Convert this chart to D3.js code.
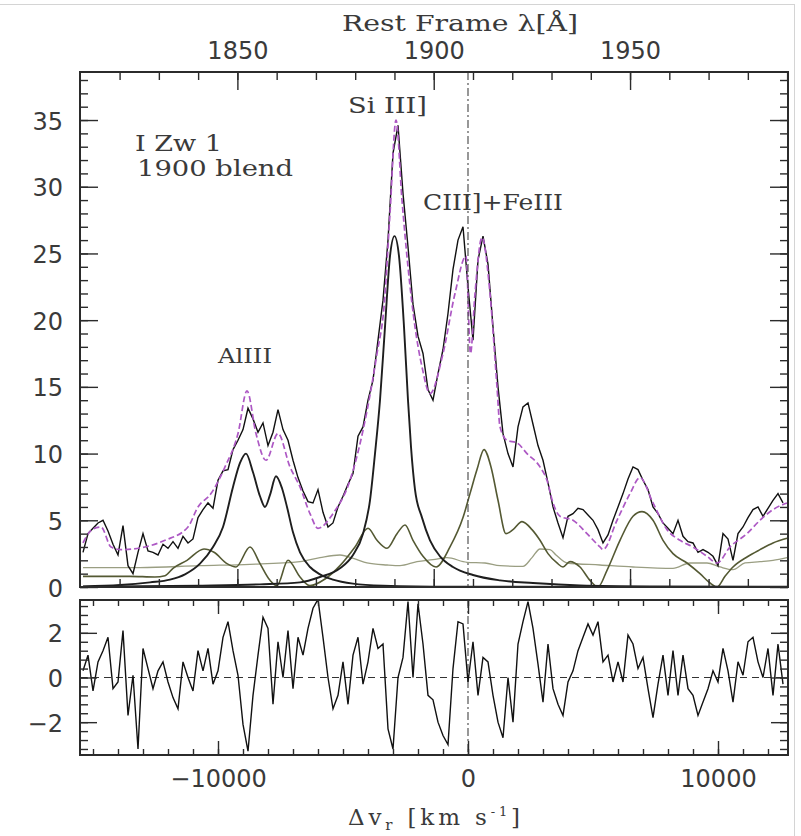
<!DOCTYPE html>
<html>
<head>
<meta charset="utf-8">
<script src="https://cdn.jsdelivr.net/npm/d3@7"></script>
<style>
  body { margin: 0; background: #fff; }
  svg { display: block; }
</style>
</head>
<body>
<svg id="chart" width="801" height="836"></svg>
<script>
// ---- Velocity grid of the observed spectrum and its residuals (km/s) ----
const velocity = [
  -15400,-15200,-15000,-14800,-14600,-14400,-14200,-14000,-13800,-13600,
  -13400,-13200,-13000,-12800,-12600,-12400,-12200,-12000,-11800,-11600,
  -11400,-11200,-11000,-10800,-10600,-10400,-10200,-10000,-9800,-9600,
  -9400,-9200,-9000,-8800,-8600,-8400,-8200,-8000,-7800,-7600,
  -7400,-7200,-7000,-6800,-6600,-6400,-6200,-6000,-5800,-5600,
  -5400,-5200,-5000,-4800,-4600,-4400,-4200,-4000,-3800,-3600,
  -3400,-3200,-3000,-2800,-2600,-2400,-2200,-2000,-1800,-1600,
  -1400,-1200,-1000,-800,-600,-400,-200,0,200,400,
  600,800,1000,1200,1400,1600,1800,2000,2200,2400,
  2600,2800,3000,3200,3400,3600,3800,4000,4200,4400,
  4600,4800,5000,5200,5400,5600,5800,6000,6200,6400,
  6600,6800,7000,7200,7400,7600,7800,8000,8200,8400,
  8600,8800,9000,9200,9400,9600,9800,10000,10200,10400,
  10600,10800,11000,11200,11400,11600,11800,12000,12200,12400,
  12600
];

// Observed flux (10^-15 erg s^-1 cm^-2 A^-1)
const observedFlux = [
  2.6,4.0,4.4,4.8,5.0,4.2,3.2,2.4,4.6,1.6,
  1.0,2.6,4.0,2.7,2.6,2.4,3.2,2.9,3.4,2.9,
  3.8,3.3,3.6,5.2,5.8,6.3,5.9,8.0,8.7,8.8,
  10.3,11.0,11.8,13.4,12.6,11.6,12.3,10.6,11.6,13.3,
  11.8,11.0,9.5,8.2,7.2,6.4,6.3,7.3,5.6,4.5,
  4.8,6.0,6.8,7.7,8.5,11.3,12.0,14.0,15.5,18.5,
  21.5,26.0,32.5,34.6,29.5,25.5,21.2,18.8,17.5,14.8,
  14.0,16.0,17.8,20.5,23.8,26.0,27.0,22.5,18.5,24.5,
  26.3,24.2,19.5,15.0,11.5,10.0,9.0,12.0,13.5,13.8,
  12.2,10.6,9.5,7.8,6.0,4.8,3.7,5.3,5.5,5.9,
  5.8,5.4,5.0,4.3,3.3,3.9,5.0,6.0,7.0,8.1,
  9.0,8.8,8.0,7.3,6.0,5.5,4.8,4.4,4.0,5.0,
  3.8,3.4,3.3,2.6,2.8,2.6,2.3,1.6,4.0,3.6,
  2.0,4.0,4.5,5.2,5.8,6.0,5.3,5.9,6.5,7.0,
  6.3
];

// Residuals (observed - fit) on the same grid
const residual = [
  0.3,1.0,-0.6,0.7,1.2,1.8,-0.5,-0.2,2.1,-1.7,
  0.1,-3.2,1.3,0.4,-0.5,0.3,0.7,-0.2,-0.9,-1.4,
  0.7,0.0,-0.6,1.2,0.3,1.3,-0.3,0.3,1.8,2.5,
  1.2,0.1,-2.1,-3.3,-0.8,1.0,2.7,2.2,-1.2,1.6,
  0.0,2.1,-0.5,1.8,1.0,2.2,3.1,3.5,1.8,0.0,
  -1.4,-0.8,0.7,-1.2,1.0,1.8,-0.3,0.7,2.2,1.3,
  1.5,-2.3,-3.2,0.0,0.9,3.4,0.0,3.3,1.5,-0.8,
  -1.0,-2.0,-2.6,-3.0,0.4,2.5,2.4,-0.2,1.6,-0.8,
  0.9,0.7,-0.8,-2.0,-2.7,0.0,-2.0,1.5,2.5,3.4,
  2.2,0.6,-1.1,1.5,-0.5,-1.2,-1.7,-0.2,0.3,1.2,
  1.8,2.4,1.9,2.5,0.7,1.0,-0.2,0.7,-0.2,1.9,
  1.5,0.4,0.9,-0.5,-1.8,-0.3,1.0,-0.8,1.2,-0.8,
  1.0,-0.5,-0.8,-1.7,-1.1,-0.5,0.3,-0.2,1.3,0.3,
  -1.1,0.7,0.1,1.6,1.8,0.7,0.0,1.3,-0.8,1.5,
  -0.3
];

// Total fit
const modelVelocity = [
  -15400,-15040,-14680,-14280,-13880,-12920,-12120,-11200,-10800,-10280,
  -9720,-9200,-8840,-8480,-8080,-7600,-7120,-6720,-6320,-6000,
  -5400,-4720,-4040,-3640,-3360,-3120,-2880,-2640,-2400,-2120,
  -1840,-1520,-1000,-520,-80,100,280,560,880,1160,
  1280,1560,1960,2360,2880,3160,3400,3680,4200,4760,
  5280,5400,5960,6480,6880,7400,7960,8480,9000,9560,
  9960,10480,11160,11680,12200,12760
];
const modelFlux = [
  3.3,4.3,4.5,3.0,2.8,3.0,3.5,4.5,6.0,7.0,
  9.0,11.5,14.7,11.5,9.5,11.5,9.0,7.5,5.5,4.4,
  5.5,8.0,13.2,17.5,21.0,28.0,35.0,29.0,24.0,19.5,
  16.5,14.5,17.5,22.0,24.8,17.5,22.0,26.2,22.0,15.0,
  12.0,11.0,10.8,10.0,9.0,8.0,6.3,5.3,5.0,4.0,
  3.0,2.8,5.0,7.0,8.2,6.3,4.3,3.5,3.0,2.3,
  1.8,3.0,4.0,5.0,5.8,6.3
];

// Al III doublet component
const alVelocity = [
  -15400,-13920,-12720,-11920,-11320,-10720,-10200,-9800,-9400,-9120,
  -8880,-8600,-8320,-8120,-7920,-7680,-7440,-7240,-7000,-6720,
  -6320,-5920,-5400,-4600,-3400,-720,12800
];
const alFlux = [
  0.05,0.15,0.35,0.55,0.95,1.75,3.0,4.5,7.5,9.3,
  10.0,8.6,6.8,6.0,6.9,8.3,7.4,6.0,4.1,2.6,
  1.5,0.95,0.55,0.25,0.1,0.02,0.0
];

// Si III] component
const siVelocity = [
  -15400,-10720,-8320,-6720,-5920,-5120,-4600,-4200,-3920,-3720,
  -3520,-3320,-3120,-2940,-2760,-2560,-2400,-2280,-2120,-1840,
  -1520,-1120,-600,200,1280,2600,4480,7280,12800
];
const siFlux = [
  0.02,0.1,0.2,0.35,0.75,1.4,2.4,4.0,6.5,10.0,
  14.0,19.5,24.8,26.3,24.8,19.5,14.0,10.5,7.3,5.2,
  3.5,2.3,1.5,0.9,0.5,0.3,0.12,0.05,0.02
];

// Fe III template component
const fe3Velocity = [
  -15400,-13520,-12520,-12120,-11800,-11240,-10560,-10160,-9640,-9280,
  -8720,-8320,-7920,-7640,-7200,-6720,-6320,-5720,-5120,-4520,
  -4000,-3640,-3240,-2840,-2520,-2200,-1800,-1280,-720,-200,
  80,360,640,920,1200,1520,1800,2160,2560,2880,
  3200,3560,3800,4080,4480,4880,5200,5560,6080,6600,
  6960,7400,7800,8200,8760,9280,9680,9960,10280,10600,
  11160,11680,12200,12760
];
const fe3Flux = [
  0.8,0.8,0.75,0.85,1.4,2.0,2.85,2.6,1.75,1.5,
  3.0,1.75,0.5,0.1,2.0,0.75,0.1,0.6,1.6,3.0,
  4.4,3.5,2.9,4.0,4.65,3.5,2.3,1.5,3.0,5.2,
  7.0,8.8,10.3,9.0,6.5,4.0,4.3,4.9,4.3,3.5,
  2.5,1.8,1.5,1.9,1.5,0.5,0.0,1.25,3.5,5.3,
  5.65,5.0,3.5,2.5,1.8,1.0,0.3,0.0,0.8,1.5,
  2.25,2.8,3.3,3.65
];

// Fe II template component
const fe2Velocity = [
  -15400,-13120,-10720,-8720,-6720,-5920,-5120,-4520,-4040,-3240,
  -2720,-2040,-1400,-840,-40,680,1280,2200,2560,2880,
  3280,3520,3960,5280,6600,8200,8880,9560,10080,10600,
  11080,11680,12200,12760
];
const fe2Flux = [
  1.45,1.45,1.6,1.7,1.9,2.2,2.4,2.1,1.8,1.65,
  1.6,1.9,2.05,2.2,1.85,1.8,1.6,1.55,2.2,2.85,
  2.8,2.4,1.8,1.65,1.5,1.4,1.8,1.8,1.5,1.3,
  1.8,1.9,2.0,2.2
];

// Axis ticks
const fluxMajor = [0, 5, 10, 15, 20, 25, 30, 35];
const fluxMinor = d3.range(0, 39, 1);
const lambdaMajor = [1850, 1900, 1950];
const lambdaMinor = d3.range(1820, 1991, 10);
const velMajor = [-10000, 0, 10000];
const velMinor = d3.range(-15000, 12001, 1000);
const resMajor = [-2, 0, 2];
const resMinor = [-3.2,-2.8,-2.4,-2,-1.6,-1.2,-0.8,-0.4,0,0.4,0.8,1.2,1.6,2,2.4,2.8,3.2];

// ---- Layout ----
const L = 80, R = 788;
const topY0 = 72, topY1 = 587;
const botY0 = 600, botY1 = 755;
const C_KMS = 299792.458, LAMBDA0 = 1908.73;

const svg = d3.select("#chart");
svg.append("rect").attr("width", 801).attr("height", 836).attr("fill", "#fff");
// thin frame around the figure (top and right edges are inside the canvas)
svg.append("rect").attr("x", -2).attr("y", 4.5).attr("width", 796.5).attr("height", 840)
  .attr("fill", "none").attr("stroke", "#d4d4d4").attr("stroke-width", 1);

const x = d3.scaleLinear().domain([-15520, 12800]).range([L, R]);
const lam = d3.scaleLinear()
  .domain(x.domain().map(v => LAMBDA0 * (1 + v / C_KMS)))
  .range([L, R]);
const yTop = d3.scaleLinear().domain([0, 38.6]).range([topY1, topY0]);
const yBot = d3.scaleLinear().domain([-3.47, 3.47]).range([botY1, botY0]);

const defs = svg.append("defs");
defs.append("clipPath").attr("id", "clipTop").append("rect")
  .attr("x", L).attr("y", topY0).attr("width", R - L).attr("height", topY1 - topY0);
defs.append("clipPath").attr("id", "clipBot").append("rect")
  .attr("x", L).attr("y", botY0).attr("width", R - L).attr("height", botY1 - botY0);

const tickColor = "#2b2b2b";
const labelColor = "#3a3a3a";

function tickRow(axisFn, scale, values, len, tx, ty) {
  const g = svg.append("g").attr("transform", `translate(${tx},${ty})`)
    .call(axisFn(scale).tickValues(values).tickSize(-len).tickFormat(""));
  g.select(".domain").remove();
  g.selectAll("line").attr("stroke", tickColor).attr("stroke-width", 1.4);
  return g;
}
function labelRow(axisFn, scale, values, pad, tx, ty, fmt) {
  const g = svg.append("g").attr("transform", `translate(${tx},${ty})`)
    .call(axisFn(scale).tickValues(values).tickSize(0).tickPadding(pad).tickFormat(fmt));
  g.select(".domain").remove();
  g.selectAll("text").attr("font-family", "'DejaVu Sans', sans-serif")
    .attr("font-size", 24).attr("fill", labelColor);
  return g;
}
const minusFmt = d => (d < 0 ? "\u2212" + Math.abs(d) : String(d));

// ---- Top panel ----
const topPanel = svg.append("g").attr("clip-path", "url(#clipTop)");

const lineOf = (vs, fs, y) => d3.line()
  .x((d, i) => x(vs[i])).y((d, i) => y(fs[i]));

function component(vs, fs, color, width) {
  topPanel.append("path")
    .attr("d", lineOf(vs, fs, yTop).curve(d3.curveMonotoneX)(fs))
    .attr("fill", "none").attr("stroke", color).attr("stroke-width", width);
}
component(fe2Velocity, fe2Flux, "#9a9e82", 1.3);
component(fe3Velocity, fe3Flux, "#545933", 1.6);
component(alVelocity, alFlux, "#1e1e1e", 1.9);
component(siVelocity, siFlux, "#1e1e1e", 1.9);

topPanel.append("path")
  .attr("d", lineOf(velocity, observedFlux, yTop)(observedFlux))
  .attr("fill", "none").attr("stroke", "#111").attr("stroke-width", 1.4);

topPanel.append("path")
  .attr("d", lineOf(modelVelocity, modelFlux, yTop).curve(d3.curveMonotoneX)(modelFlux))
  .attr("fill", "none").attr("stroke", "#ad58c4").attr("stroke-width", 1.7)
  .attr("stroke-dasharray", "6,3");

// zero-velocity marker
topPanel.append("line").attr("x1", x(0)).attr("x2", x(0)).attr("y1", topY0).attr("y2", topY1)
  .attr("stroke", "#444").attr("stroke-width", 1.1).attr("stroke-dasharray", "8,3,2,3");

// ticks: wavelength on top and bottom edges
tickRow(d3.axisTop, lam, lambdaMinor, 8, 0, topY0);
tickRow(d3.axisTop, lam, lambdaMajor, 18, 0, topY0);
tickRow(d3.axisBottom, lam, lambdaMinor, 8, 0, topY1);
tickRow(d3.axisBottom, lam, lambdaMajor, 18, 0, topY1);
tickRow(d3.axisLeft, yTop, fluxMinor, 8, L, 0);
tickRow(d3.axisLeft, yTop, fluxMajor, 18, L, 0);
tickRow(d3.axisRight, yTop, fluxMinor, 8, R, 0);
tickRow(d3.axisRight, yTop, fluxMajor, 18, R, 0);

labelRow(d3.axisTop, lam, lambdaMajor, 13, 0, topY0, d3.format("d"));
labelRow(d3.axisLeft, yTop, fluxMajor, 17, L, 0, d3.format("d"))
  .selectAll("text").attr("dy", "0.38em");

svg.append("rect").attr("x", L).attr("y", topY0).attr("width", R - L).attr("height", topY1 - topY0)
  .attr("fill", "none").attr("stroke", tickColor).attr("stroke-width", 2);

// ---- Bottom panel (residuals) ----
const botPanel = svg.append("g").attr("clip-path", "url(#clipBot)");
botPanel.append("line").attr("x1", L).attr("x2", R).attr("y1", yBot(0)).attr("y2", yBot(0))
  .attr("stroke", "#333").attr("stroke-width", 1.2).attr("stroke-dasharray", "7,5");
botPanel.append("line").attr("x1", x(0)).attr("x2", x(0)).attr("y1", botY0).attr("y2", botY1)
  .attr("stroke", "#444").attr("stroke-width", 1.1).attr("stroke-dasharray", "8,3,2,3");
botPanel.append("path")
  .attr("d", lineOf(velocity, residual, yBot)(residual))
  .attr("fill", "none").attr("stroke", "#111").attr("stroke-width", 1.4);

tickRow(d3.axisTop, x, velMinor, 6, 0, botY0);
tickRow(d3.axisTop, x, velMajor, 14, 0, botY0);
tickRow(d3.axisBottom, x, velMinor, 6, 0, botY1);
tickRow(d3.axisBottom, x, velMajor, 14, 0, botY1);
tickRow(d3.axisLeft, yBot, resMinor, 8, L, 0);
tickRow(d3.axisLeft, yBot, resMajor, 17, L, 0);
tickRow(d3.axisRight, yBot, resMinor, 8, R, 0);
tickRow(d3.axisRight, yBot, resMajor, 17, R, 0);

labelRow(d3.axisBottom, x, velMajor, 15, 0, botY1, minusFmt);
labelRow(d3.axisLeft, yBot, resMajor, 17, L, 0, minusFmt)
  .selectAll("text").attr("dy", "0.38em");

svg.append("rect").attr("x", L).attr("y", botY0).attr("width", R - L).attr("height", botY1 - botY0)
  .attr("fill", "none").attr("stroke", tickColor).attr("stroke-width", 2);

// ---- Text ----
const serif = "'DejaVu Serif', serif";
function label(txt, x0, y0, size, len) {
  return svg.append("text").attr("x", x0).attr("y", y0)
    .attr("font-family", serif).attr("font-size", size).attr("fill", labelColor)
    .attr("textLength", len).attr("lengthAdjust", "spacingAndGlyphs").text(txt);
}
label("Rest Frame \u03bb[\u00c5]", 342, 31, 22, 236);
label("I Zw 1", 135, 151, 22, 87);
label("1900 blend", 137, 176, 22, 156);
label("Si III]", 348, 113, 22, 79);
label("CIII]+FeIII", 423, 210, 22, 140);
label("AlIII", 218, 363, 21, 54);

const xl = svg.append("text").attr("x", 348).attr("y", 825)
  .attr("font-family", serif).attr("font-size", 23).attr("fill", labelColor)
  .attr("textLength", 172).attr("lengthAdjust", "spacing");
xl.append("tspan").text("\u0394v");
xl.append("tspan").attr("font-size", 15).attr("dy", 5).text("r");
xl.append("tspan").attr("dy", -5).text(" [km s");
xl.append("tspan").attr("font-size", 13).attr("dy", -9).text("-1");
xl.append("tspan").attr("dy", 9).text("]");
</script>
</body>
</html>
